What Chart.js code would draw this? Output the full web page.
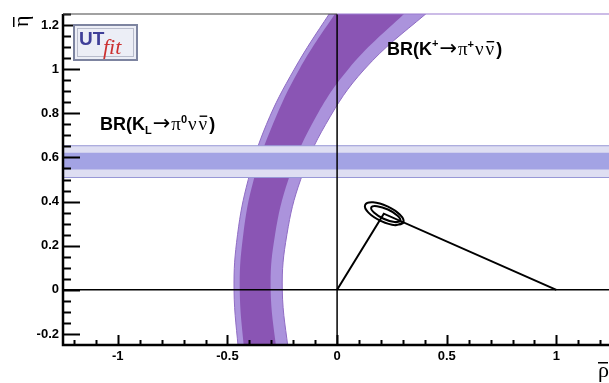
<!DOCTYPE html>
<html lang="en">
<head>
<meta charset="UTF-8">
<title>UTfit rho-eta plane: K -> pi nu nubar</title>
<script src="https://cdn.jsdelivr.net/npm/chart.js"></script>
<style>
  html, body { margin: 0; padding: 0; background: #fff; }
  #wrap { width: 609px; height: 383px; position: relative; }
</style>
</head>
<body>
<div id="wrap"><canvas id="chart"></canvas></div>
<script>
  const ringEta = [-0.3, 0, 0.25, 0.5, 0.75, 1.0, 1.25, 1.3];
  // rho of each ring edge at those levels (outer = left side of the ring)
  const ringOuterLight = [-0.448, -0.470, -0.454, -0.405, -0.322, -0.195, -0.036, 0.004];
  const ringOuterDark  = [-0.422, -0.444, -0.428, -0.380, -0.293, -0.172, -0.010, 0.031];
  const ringInnerDark  = [-0.274, -0.303, -0.283, -0.222, -0.115, 0.051, 0.305, 0.372];
  const ringInnerLight = [-0.220, -0.250, -0.229, -0.166, -0.052, 0.125, 0.404, 0.481];

  // horizontal K_L band (eta low / high)
  const klOuter = [0.509, 0.653];
  const klInner = [0.545, 0.621];

  // unitarity triangle apex and the two contours around it
  const apex = { rho: 0.213, eta: 0.345 };
  const cont95Rho = [0.302, 0.265, 0.200, 0.143, 0.128, 0.164, 0.230, 0.287];
  const cont95Eta = [0.305, 0.293, 0.312, 0.350, 0.385, 0.397, 0.378, 0.340];
  const cont68Rho = [0.288, 0.262, 0.212, 0.168, 0.156, 0.182, 0.232, 0.276];
  const cont68Eta = [0.312, 0.307, 0.322, 0.350, 0.374, 0.379, 0.364, 0.336];

  // axis ticks
  const xTicks = [-1, -0.5, 0, 0.5, 1];
  const yTicks = [-0.2, 0, 0.2, 0.4, 0.6, 0.8, 1, 1.2];
  const xMin = -1.25, xMax = 1.24, yMin = -0.25, yMax = 1.25;

  function ringShape(left, right) {
    const pts = [];
    ringEta.forEach((e, i) => pts.push({ x: left[i], y: e }));
    for (let i = ringEta.length - 1; i >= 0; i--) pts.push({ x: right[i], y: ringEta[i] });
    return pts;
  }
  function rect(lo, hi) {
    return [{ x: -1.3, y: lo }, { x: 1.3, y: lo }, { x: 1.3, y: hi }, { x: -1.3, y: hi }];
  }
  function contour(rs, es) {
    const pts = rs.map((r, i) => ({ x: r, y: es[i] }));
    return pts.concat(pts.slice(0, 2)); // close the loop
  }

  // draws a row of text pieces with their own fonts
  function drawRuns(ctx, x, y, runs) {
    for (const r of runs) {
      ctx.font = r.font;
      ctx.fillText(r.t, x, y - (r.dy || 0));
      const w = ctx.measureText(r.t).width;
      if (r.bar) ctx.fillRect(x + 1, y - r.bar, w - 1, 1.4);
      x += w + (r.gap || 0);
    }
  }

  const rootStyle = {
    id: 'rootStyle',
    afterDatasetsDraw(chart) {
      const { ctx, chartArea: a, scales: { x, y } } = chart;
      ctx.save();
      ctx.strokeStyle = '#000';
      ctx.lineWidth = 2;
      ctx.beginPath();
      // y ticks: 0.05 minor, 0.2 major
      for (let i = -5; i <= 25; i++) {
        const py = Math.round(y.getPixelForValue(i * 0.05)) + 0.5;
        if (py < a.top || py > a.bottom) continue;
        const len = i % 4 === 0 ? 17 : 8;
        ctx.moveTo(a.left, py); ctx.lineTo(a.left + len, py);
      }
      // x ticks: 0.1 minor, 0.5 major
      for (let i = -12; i <= 12; i++) {
        const px = Math.round(x.getPixelForValue(i * 0.1)) + 0.5;
        if (px < a.left || px > a.right) continue;
        const len = i % 5 === 0 ? 10 : 5;
        ctx.moveTo(px, a.bottom); ctx.lineTo(px, a.bottom - len);
      }
      ctx.stroke();

      // frame
      ctx.lineWidth = 2.5;
      ctx.beginPath();
      ctx.moveTo(a.left, a.top); ctx.lineTo(a.left, a.bottom); ctx.lineTo(a.right, a.bottom);
      ctx.stroke();
      const x0 = x.getPixelForValue(0);
      ctx.lineWidth = 1.2;
      ctx.strokeStyle = '#444';
      ctx.beginPath(); ctx.moveTo(a.left, a.top); ctx.lineTo(x0, a.top); ctx.stroke();
      ctx.strokeStyle = '#9a7bcf';
      ctx.beginPath(); ctx.moveTo(x0, a.top); ctx.lineTo(a.right, a.top); ctx.stroke();

      // UTfit logo
      ctx.fillStyle = '#eceef6';
      ctx.fillRect(74, 25, 63, 35);
      ctx.strokeStyle = '#7d84a0';
      ctx.lineWidth = 2;
      ctx.strokeRect(74, 25, 63, 35);
      ctx.strokeStyle = '#b8bccc';
      ctx.lineWidth = 1;
      ctx.strokeRect(77.5, 28.5, 56, 28);
      ctx.fillStyle = '#3f3f98';
      ctx.font = 'bold 19px "Liberation Sans"';
      ctx.fillText('UT', 79, 45);
      ctx.fillStyle = '#cc3030';
      ctx.font = 'italic 22px "Liberation Serif"';
      ctx.fillText('fit', 103, 54);

      // band labels
      ctx.fillStyle = '#000';
      const big = 'bold 18px "Liberation Sans"';
      const sym = '21px "DejaVu Sans"';
      const grk = '19px "Liberation Serif"';
      const sup = 'bold 11px "Liberation Sans"';
      drawRuns(ctx, 387, 55, [
        { t: 'BR(K', font: big },
        { t: '+', font: sup, dy: 8, gap: 1 },
        { t: '\u2192', font: sym, gap: 1 },
        { t: '\u03c0', font: grk },
        { t: '+', font: sup, dy: 7, gap: 1 },
        { t: '\u03bd', font: grk, gap: 2 },
        { t: '\u03bd', font: grk, bar: 14, gap: 2 },
        { t: ')', font: big }
      ]);
      drawRuns(ctx, 100, 129.5, [
        { t: 'BR(K', font: big },
        { t: 'L', font: sup, dy: -4, gap: 1 },
        { t: '\u2192', font: sym, gap: 1 },
        { t: '\u03c0', font: grk },
        { t: '0', font: sup, dy: 7, gap: 1 },
        { t: '\u03bd', font: grk, gap: 2 },
        { t: '\u03bd', font: grk, bar: 14, gap: 2 },
        { t: ')', font: big }
      ]);

      // axis titles
      ctx.font = '22px "Liberation Serif"';
      ctx.fillText('\u03c1', 598, 377);
      ctx.fillRect(598, 362, 10, 1.5);
      ctx.save();
      ctx.translate(28, 27);
      ctx.rotate(-Math.PI / 2);
      ctx.fillText('\u03b7', 0, 0);
      ctx.fillRect(0, -15, 10, 1.5);
      ctx.restore();
      ctx.restore();
    }
  };

  const ctx = document.getElementById('chart').getContext('2d');
  new Chart(ctx, {
    type: 'line',
    data: {
      datasets: [
        { data: contour(cont68Rho, cont68Eta), borderColor: '#000', borderWidth: 2, tension: 0.45, order: 0 },
        { data: contour(cont95Rho, cont95Eta), borderColor: '#000', borderWidth: 2, tension: 0.45, order: 0 },
        { data: [{ x: 0, y: 0 }, { x: apex.rho, y: apex.eta }, { x: 1, y: 0 }], borderColor: '#000', borderWidth: 2, order: 0 },
        { data: [{ x: -1.3, y: 0 }, { x: 1.3, y: 0 }], borderColor: '#000', borderWidth: 1.5, order: 1 },
        { data: [{ x: 0, y: -0.3 }, { x: 0, y: 1.3 }], borderColor: '#000', borderWidth: 1.5, order: 1 },
        { data: rect(klInner[0], klInner[1]), fill: 'shape', backgroundColor: '#a3a3e4', borderWidth: 0, order: 2 },
        { data: rect(klOuter[0], klOuter[1]), fill: 'shape', backgroundColor: '#dedef2', borderColor: '#9898d6', borderWidth: 1, order: 3 },
        { data: ringShape(ringOuterDark, ringInnerDark), fill: 'shape', backgroundColor: '#8a55b4', borderWidth: 0, tension: 0.4, order: 4 },
        { data: ringShape(ringOuterLight, ringInnerLight), fill: 'shape', backgroundColor: '#ab93dc', borderColor: '#8f6cc4', borderWidth: 1, tension: 0.4, order: 5 }
      ]
    },
    options: {
      responsive: true,
      maintainAspectRatio: false,
      animation: false,
      layout: { padding: { top: 14, right: 0, left: 0, bottom: 0 } },
      elements: { point: { radius: 0 }, line: { capBezierPoints: false, fill: false } },
      plugins: { legend: { display: false }, tooltip: { enabled: false } },
      scales: {
        x: {
          type: 'linear', min: xMin, max: xMax,
          grid: { display: false, drawTicks: false },
          border: { display: false },
          afterBuildTicks: s => { s.ticks = xTicks.map(v => ({ value: v })); },
          afterFit: s => { s.height = 38; },
          ticks: { color: '#000', font: { family: 'Liberation Sans', size: 13, weight: 'bold' }, padding: 4, maxRotation: 0, autoSkip: false, callback: v => String(v) }
        },
        y: {
          type: 'linear', min: yMin, max: yMax,
          grid: { display: false, drawTicks: false },
          border: { display: false },
          afterBuildTicks: s => { s.ticks = yTicks.map(v => ({ value: v })); },
          afterFit: s => { s.width = 63; },
          ticks: { color: '#000', font: { family: 'Liberation Sans', size: 13, weight: 'bold' }, padding: 4, autoSkip: false, callback: v => String(v) }
        }
      }
    },
    plugins: [rootStyle]
  });
</script>
</body>
</html>
